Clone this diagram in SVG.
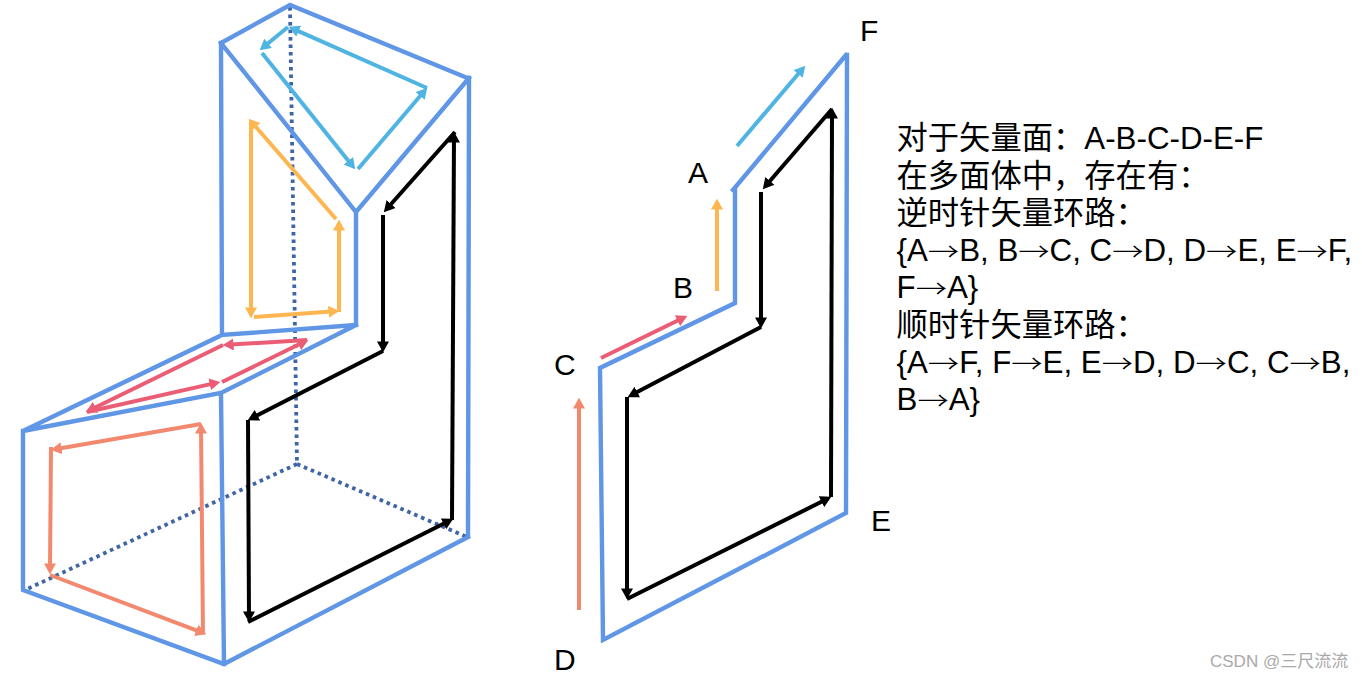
<svg xmlns="http://www.w3.org/2000/svg" width="1362" height="679" viewBox="0 0 1362 679">
<style>
.e{fill:none;stroke:#6096e6;stroke-width:4.4;stroke-linecap:square;stroke-linejoin:miter}
.d{fill:none;stroke:#3f65a5;stroke-width:3.8;stroke-dasharray:3.6 3.9}
.a{fill:none;stroke-width:4}
.c{stroke:#4fb4e2;marker-end:url(#mc)}
.o{stroke:#fdb650;marker-end:url(#mo)}
.r{stroke:#ea5d75;marker-end:url(#mr)}
.s{stroke:#f2896e;marker-end:url(#ms)}
.k{stroke:#000;marker-end:url(#mk)}
text{font-family:"Liberation Sans","Noto Sans CJK SC",sans-serif;fill:#000}
.l{font-size:30px}
.t{font-size:31.3px}
.g{font-family:"Noto Sans CJK SC",sans-serif;font-weight:300;font-size:25px}
.w{font-size:17px;fill:#a9a9a9}
</style>
<defs>
<marker id="mc" viewBox="0 0 10 11" refX="6" refY="5.5" markerWidth="11" markerHeight="12" markerUnits="userSpaceOnUse" orient="auto"><path d="M0 0L10 5.5L0 11z" fill="#4fb4e2"/></marker>
<marker id="mo" viewBox="0 0 10 11" refX="6" refY="5.5" markerWidth="11" markerHeight="12" markerUnits="userSpaceOnUse" orient="auto"><path d="M0 0L10 5.5L0 11z" fill="#fdb650"/></marker>
<marker id="mr" viewBox="0 0 10 11" refX="6" refY="5.5" markerWidth="11" markerHeight="12" markerUnits="userSpaceOnUse" orient="auto"><path d="M0 0L10 5.5L0 11z" fill="#ea5d75"/></marker>
<marker id="ms" viewBox="0 0 10 11" refX="6" refY="5.5" markerWidth="11" markerHeight="12" markerUnits="userSpaceOnUse" orient="auto"><path d="M0 0L10 5.5L0 11z" fill="#f2896e"/></marker>
<marker id="mk" viewBox="0 0 10 11" refX="6" refY="5.5" markerWidth="11" markerHeight="12" markerUnits="userSpaceOnUse" orient="auto"><path d="M0 0L10 5.5L0 11z" fill="#000"/></marker>
</defs>
<rect width="1362" height="679" fill="#fff"/>
<g id="polyhedron">
<path class="d" d="M290 7L297 464M297 464L25 590M297 464L467 537"/>
<path class="e" d="M221 43L290 5L465 77M221 43L356 212L469 78M469 78L468 536M356 212L356 325M221 43L222 335L356 325M222 335L23 431L221 393L356 325M221 393L224 664M23 431L23 590L224 664L468 537"/>
</g>
<g id="polyhedron-loops">
<path class="a c" d="M288 27L263 47.5"/>
<path class="a c" d="M427 88L292.7 28.6"/>
<path class="a c" d="M358 169L424.4 91"/>
<path class="a c" d="M262 53L352.5 165.9"/>
<path class="a o" d="M336 219L251.6 122"/>
<path class="a o" d="M251 121L251 314"/>
<path class="a o" d="M254 317L335 311.3"/>
<path class="a o" d="M339 312L339 224"/>
<path class="a r" d="M307 340L227 344.8"/>
<path class="a r" d="M223 345L89.6 410.2"/>
<path class="a r" d="M87 412L216.1 382.9"/>
<path class="a r" d="M222 382L304.4 341.8"/>
<path class="a s" d="M50 575L202.3 632.6"/>
<path class="a s" d="M203 634L201 427"/>
<path class="a s" d="M201 424L55 449.3"/>
<path class="a s" d="M51 447L50 570"/>
<path class="a k" d="M452 520L454 136"/>
<path class="a k" d="M455 132L386.7 209"/>
<path class="a k" d="M383 215L383 348"/>
<path class="a k" d="M383 351L251.6 418.2"/>
<path class="a k" d="M248 420L249 618"/>
<path class="a k" d="M248 622L449.4 520.8"/>
</g>
<g id="vector-surface">
<path class="e" d="M733 190L846 55M847 55L846 513L603 640L600 368L735 303L735 190"/>
</g>
<g id="surface-loops">
<path class="a c" d="M737 146L802.4 69"/>
<path class="a o" d="M717 291L717 203"/>
<path class="a r" d="M601 358L683.4 317.8"/>
<path class="a s" d="M579 610L579 402"/>
<path class="a k" d="M831 497L832 112"/>
<path class="a k" d="M832 109L765.6 186"/>
<path class="a k" d="M761 192L761 324"/>
<path class="a k" d="M761 327L631.5 395.1"/>
<path class="a k" d="M627 397L627 595"/>
<path class="a k" d="M627 599L827.4 498.8"/>
</g>
<g id="labels">
<text class="l" x="860" y="41">F</text>
<text class="l" x="688" y="183">A</text>
<text class="l" x="673" y="298">B</text>
<text class="l" x="554" y="375">C</text>
<text class="l" x="554" y="670">D</text>
<text class="l" x="871" y="531">E</text>
</g>
<g id="description">
<text class="t" x="896.5" y="148.5">对于矢量面：A-B-C-D-E-F</text>
<text class="t" x="896.5" y="186.5">在多面体中，存在有：</text>
<text class="t" x="896.5" y="224">逆时针矢量环路：</text>
<text class="t" x="896.5" y="260.5">{A<tspan class="g" textLength="31.3" lengthAdjust="spacingAndGlyphs">→</tspan>B, B<tspan class="g" textLength="31.3" lengthAdjust="spacingAndGlyphs">→</tspan>C, C<tspan class="g" textLength="31.3" lengthAdjust="spacingAndGlyphs">→</tspan>D, D<tspan class="g" textLength="31.3" lengthAdjust="spacingAndGlyphs">→</tspan>E, E<tspan class="g" textLength="31.3" lengthAdjust="spacingAndGlyphs">→</tspan>F,</text>
<text class="t" x="896.5" y="298">F<tspan class="g" textLength="31.3" lengthAdjust="spacingAndGlyphs">→</tspan>A}</text>
<text class="t" x="896.5" y="336">顺时针矢量环路：</text>
<text class="t" x="896.5" y="373">{A<tspan class="g" textLength="31.3" lengthAdjust="spacingAndGlyphs">→</tspan>F, F<tspan class="g" textLength="31.3" lengthAdjust="spacingAndGlyphs">→</tspan>E, E<tspan class="g" textLength="31.3" lengthAdjust="spacingAndGlyphs">→</tspan>D, D<tspan class="g" textLength="31.3" lengthAdjust="spacingAndGlyphs">→</tspan>C, C<tspan class="g" textLength="31.3" lengthAdjust="spacingAndGlyphs">→</tspan>B,</text>
<text class="t" x="896.5" y="410">B<tspan class="g" textLength="31.3" lengthAdjust="spacingAndGlyphs">→</tspan>A}</text>
</g>
<text class="w" x="1210" y="667">CSDN @三尺流流</text>
</svg>
